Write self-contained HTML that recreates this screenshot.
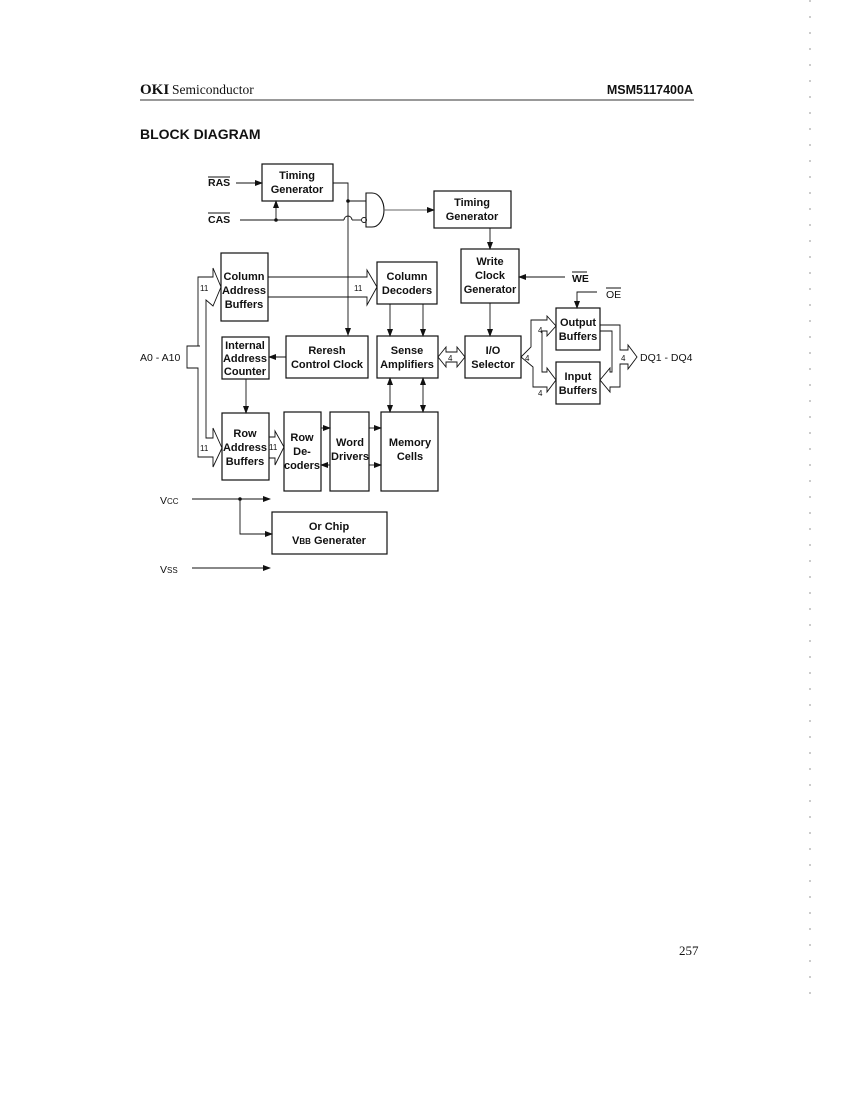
<!DOCTYPE html>
<html><head><meta charset="utf-8"><style>
html,body{margin:0;padding:0;background:#fff}
svg{display:block}
.t{font-family:"Liberation Sans",sans-serif;font-size:11px;fill:#111;text-anchor:middle;font-weight:bold;}
.l{font-family:"Liberation Sans",sans-serif;font-size:10.5px;fill:#111;}
</style></head><body>
<svg width="850" height="1100" viewBox="0 0 850 1100" xmlns="http://www.w3.org/2000/svg">
<defs>
<marker id="a" markerWidth="8" markerHeight="6" refX="7" refY="3" orient="auto" markerUnits="userSpaceOnUse"><path d="M0,0 L8,3 L0,6 z" fill="#111"/></marker>
</defs>
<!-- header -->
<text x="140" y="94" style="font-family:'Liberation Serif',serif;font-size:15px;font-weight:bold" fill="#111">OKI</text>
<text x="172" y="94" style="font-family:'Liberation Serif',serif;font-size:13.5px" fill="#111">Semiconductor</text>
<text x="693" y="94" text-anchor="end" style="font-family:'Liberation Sans',sans-serif;font-size:12.5px;font-weight:bold" fill="#111">MSM5117400A</text>
<line x1="140" y1="100" x2="694" y2="100" stroke="#333" stroke-width="1"/>
<text x="140" y="139" style="font-family:'Liberation Sans',sans-serif;font-size:14px;font-weight:bold" fill="#111">BLOCK DIAGRAM</text>
<text x="679" y="955" style="font-family:'Liberation Serif',serif;font-size:13px" fill="#111">257</text>
<line x1="810" y1="0" x2="810" y2="1000" stroke="#999" stroke-width="1" stroke-dasharray="2,14"/>

<g fill="none" stroke="#111" stroke-width="1.2">
<!-- boxes -->
<rect x="262" y="164" width="71" height="37"/>
<rect x="434" y="191" width="77" height="37"/>
<rect x="461" y="249" width="58" height="54"/>
<rect x="221" y="253" width="47" height="68"/>
<rect x="377" y="262" width="60" height="42"/>
<rect x="222" y="337" width="47" height="42"/>
<rect x="286" y="336" width="82" height="42"/>
<rect x="377" y="336" width="61" height="42"/>
<rect x="465" y="336" width="56" height="42"/>
<rect x="556" y="308" width="44" height="42"/>
<rect x="556" y="362" width="44" height="42"/>
<rect x="222" y="413" width="47" height="67"/>
<rect x="284" y="412" width="37" height="79"/>
<rect x="330" y="412" width="39" height="79"/>
<rect x="381" y="412" width="57" height="79"/>
<rect x="272" y="512" width="115" height="42"/>
</g>
<g fill="none" stroke="#111" stroke-width="0.9">
<!-- RAS / CAS -->
<line x1="236" y1="183" x2="262" y2="183" marker-end="url(#a)"/>
<line x1="240" y1="220" x2="344" y2="220"/>
<path d="M344,220 a4,4 0 0 1 8,0"/>
<line x1="352" y1="220" x2="361" y2="220"/>
<line x1="276" y1="220" x2="276" y2="201" marker-end="url(#a)"/>
<path d="M333,183 H348 V335" marker-end="url(#a)"/>
<line x1="348" y1="201" x2="366" y2="201"/>
<!-- gate -->
<path d="M366,193 V227 H372 A12,17 0 0 0 372,193 Z" stroke-width="1.1"/>
<circle cx="364" cy="220" r="2.5"/>
<line x1="384" y1="210" x2="434" y2="210" stroke="#666" marker-end="url(#a)"/>
<line x1="490" y1="228" x2="490" y2="249" marker-end="url(#a)"/>
<!-- col bus -->
<path d="M268,277 H367 V270 L377,287 L367,305 V297 H268"/>
<!-- A0-A10 bus -->
<path d="M200,346 H187 V368 H198 V457 H213 V467 L222,448 L213,428 V438 H206 V300 L213,306 L221,287 L213,268 V277 H198 V346"/>
<!-- column decoders to sense -->
<line x1="390" y1="304" x2="390" y2="336" marker-end="url(#a)"/>
<line x1="423" y1="304" x2="423" y2="336" marker-end="url(#a)"/>
<!-- refresh to IAC -->
<line x1="286" y1="357" x2="269" y2="357" marker-end="url(#a)"/>
<line x1="246" y1="379" x2="246" y2="413" marker-end="url(#a)"/>
<!-- sense <-> io -->
<path d="M438,357 L446,347 V352 H457 V347 L465,357 L457,367 V362 H446 V367 Z"/>
<line x1="490" y1="303" x2="490" y2="336" marker-end="url(#a)"/>
<!-- WE / OE -->
<line x1="565" y1="277" x2="519" y2="277" marker-end="url(#a)"/>
<path d="M597,292 H577 V308" marker-end="url(#a)"/>
<!-- io <-> buffers -->
<path d="M521,357 L531,347 V320 H547 V316 L556,326 L547,336 V331 H542 V372 H547 V368 L556,380 L547,392 V387 H533 V367 Z"/>
<path d="M600,325 H620 V350 H628 V345 L637,357 L628,369 V364 H620 V387 H610 V392 L600,380 L610,368 V372 H612 V331 H600"/>
<!-- row -->
<path d="M269,437 H275 V431 L284,447 L275,465 V458 H269"/>
<line x1="321" y1="428" x2="330" y2="428" marker-end="url(#a)"/>
<line x1="330" y1="465" x2="321" y2="465" marker-end="url(#a)"/>
<line x1="369" y1="428" x2="381" y2="428" marker-end="url(#a)"/>
<line x1="369" y1="465" x2="381" y2="465" marker-end="url(#a)"/>
<line x1="390" y1="395" x2="390" y2="378" marker-end="url(#a)"/>
<line x1="390" y1="395" x2="390" y2="412" marker-end="url(#a)"/>
<line x1="423" y1="395" x2="423" y2="378" marker-end="url(#a)"/>
<line x1="423" y1="395" x2="423" y2="412" marker-end="url(#a)"/>
<!-- power -->
<line x1="192" y1="499" x2="270" y2="499" marker-end="url(#a)"/>
<path d="M240,499 V534 H272" marker-end="url(#a)"/>
<line x1="192" y1="568" x2="270" y2="568" marker-end="url(#a)"/>
</g>
<circle cx="348" cy="201" r="1.8" fill="#111"/>
<circle cx="276" cy="220" r="1.8" fill="#111"/>
<circle cx="240" cy="499" r="1.8" fill="#111"/>

<!-- labels -->
<text class="l" x="208" y="186" font-weight="bold">RAS</text>
<line x1="208" y1="177" x2="230" y2="177" stroke="#111"/>
<text class="l" x="208" y="223" font-weight="bold">CAS</text>
<line x1="208" y1="213" x2="230" y2="213" stroke="#111"/>
<text class="l" x="572" y="282" font-weight="bold">WE</text>
<line x1="572" y1="272" x2="587" y2="272" stroke="#111"/>
<text class="l" x="606" y="298">OE</text>
<line x1="606" y1="288" x2="621" y2="288" stroke="#111"/>
<text class="l" x="140" y="361">A0 - A10</text>
<text class="l" x="640" y="361">DQ1 - DQ4</text>
<text class="l" x="160" y="504">V<tspan font-size="8">CC</tspan></text>
<text class="l" x="160" y="573">V<tspan font-size="8">SS</tspan></text>
<g class="l" style="font-size:8px">
<text x="200" y="291">11</text><text x="200" y="451">11</text>
<text x="354" y="291">11</text><text x="269" y="450">11</text>
<text x="448" y="361">4</text><text x="538" y="333">4</text>
<text x="538" y="396">4</text><text x="525" y="361">4</text>
<text x="621" y="361">4</text>
</g>
<g class="t">
<text x="297" y="179">Timing</text><text x="297" y="193">Generator</text>
<text x="472" y="206">Timing</text><text x="472" y="220">Generator</text>
<text x="490" y="265">Write</text><text x="490" y="279">Clock</text><text x="490" y="293">Generator</text>
<text x="244" y="280">Column</text><text x="244" y="294">Address</text><text x="244" y="308">Buffers</text>
<text x="407" y="280">Column</text><text x="407" y="294">Decoders</text>
<text x="245" y="349">Internal</text><text x="245" y="362">Address</text><text x="245" y="375">Counter</text>
<text x="327" y="354">Reresh</text><text x="327" y="368">Control Clock</text>
<text x="407" y="354">Sense</text><text x="407" y="368">Amplifiers</text>
<text x="493" y="354">I/O</text><text x="493" y="368">Selector</text>
<text x="578" y="326">Output</text><text x="578" y="340">Buffers</text>
<text x="578" y="380">Input</text><text x="578" y="394">Buffers</text>
<text x="245" y="437">Row</text><text x="245" y="451">Address</text><text x="245" y="465">Buffers</text>
<text x="302" y="441">Row</text><text x="302" y="455">De-</text><text x="302" y="469">coders</text>
<text x="350" y="446">Word</text><text x="350" y="460">Drivers</text>
<text x="410" y="446">Memory</text><text x="410" y="460">Cells</text>
<text x="329" y="530">Or Chip</text><text x="329" y="544">V<tspan font-size="8">BB</tspan> Generater</text>
</g>
</svg>
</body></html>
